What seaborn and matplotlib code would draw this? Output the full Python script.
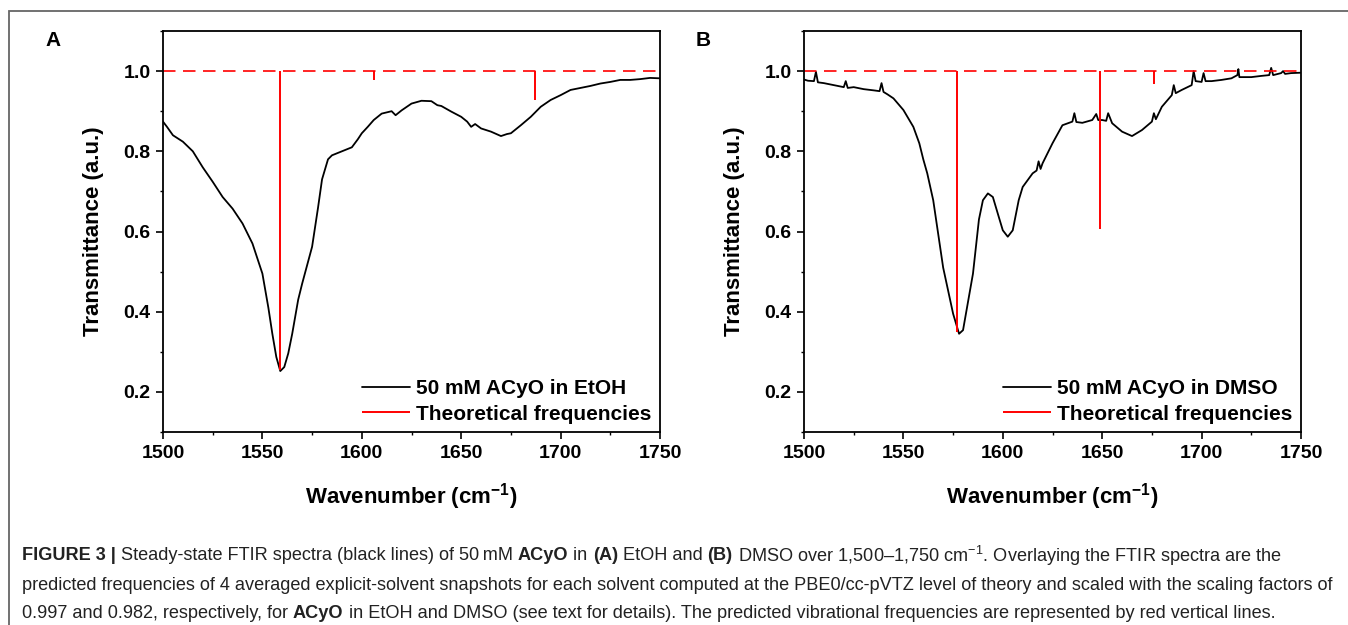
import pandas as pd
import seaborn as sns
import matplotlib.pyplot as plt
from matplotlib.patches import Rectangle
from matplotlib.ticker import MultipleLocator, FormatStrFormatter

# panel A: 50 mM ACyO in EtOH
etoh_wn = [1500, 1502, 1505, 1510, 1515, 1520, 1525, 1530, 1535, 1540, 1545, 1550,
           1553, 1555, 1557, 1559, 1561, 1563, 1565, 1568, 1570, 1575, 1578, 1580,
           1583, 1585, 1590, 1595, 1598, 1600, 1603, 1606, 1610, 1615, 1617, 1620,
           1625, 1630, 1635, 1638, 1640, 1645, 1650, 1653, 1655, 1657, 1660, 1665,
           1670, 1673, 1675, 1680, 1685, 1690, 1695, 1700, 1705, 1710, 1715, 1720,
           1725, 1730, 1735, 1740, 1745, 1750]
etoh_t = [0.874, 0.861, 0.84, 0.824, 0.80, 0.76, 0.724, 0.686, 0.657, 0.62, 0.57, 0.495,
          0.41, 0.345, 0.287, 0.252, 0.262, 0.296, 0.345, 0.43, 0.47, 0.562, 0.66, 0.73,
          0.78, 0.79, 0.80, 0.81, 0.83, 0.845, 0.861, 0.878, 0.894, 0.90, 0.89, 0.902,
          0.919, 0.926, 0.925, 0.915, 0.913, 0.899, 0.886, 0.874, 0.861, 0.868, 0.857, 0.849,
          0.838, 0.843, 0.845, 0.865, 0.886, 0.911, 0.928, 0.94, 0.953, 0.958, 0.963, 0.969,
          0.973, 0.978, 0.978, 0.98, 0.983, 0.982]

# panel B: 50 mM ACyO in DMSO
dmso_wn = [1500, 1502, 1505, 1506, 1507, 1510, 1515, 1520, 1521, 1522, 1525, 1530,
           1535, 1538, 1539, 1540, 1542, 1545, 1550, 1555, 1558, 1560, 1562, 1565,
           1570, 1575, 1578, 1580, 1585, 1588, 1590, 1592.5, 1595, 1598, 1600, 1602.5,
           1605, 1608, 1610, 1615, 1617, 1618, 1619, 1620, 1625, 1630, 1635, 1636,
           1637, 1640, 1645, 1647, 1648, 1650, 1652, 1653, 1655, 1660, 1665, 1670,
           1675, 1676, 1677, 1680, 1685, 1686, 1687, 1690, 1695, 1696, 1697, 1700,
           1701, 1702, 1705, 1710, 1715, 1718, 1718.5, 1719, 1725, 1730, 1734, 1735,
           1736, 1740, 1741, 1742, 1745, 1750]
dmso_t = [0.979, 0.976, 0.975, 0.998, 0.972, 0.97, 0.965, 0.96, 0.975, 0.958, 0.96, 0.955,
          0.952, 0.95, 0.97, 0.948, 0.942, 0.932, 0.903, 0.861, 0.82, 0.78, 0.745, 0.678,
          0.51, 0.395, 0.345, 0.354, 0.495, 0.63, 0.678, 0.695, 0.686, 0.636, 0.603, 0.587,
          0.603, 0.678, 0.711, 0.745, 0.752, 0.775, 0.756, 0.77, 0.82, 0.865, 0.874, 0.895,
          0.873, 0.871, 0.878, 0.893, 0.878, 0.878, 0.876, 0.895, 0.87, 0.849, 0.838, 0.853,
          0.874, 0.895, 0.88, 0.911, 0.94, 0.965, 0.945, 0.953, 0.965, 1.0, 0.975, 0.973,
          0.995, 0.975, 0.975, 0.978, 0.982, 0.99, 1.005, 0.985, 0.985, 0.988, 0.99, 1.008,
          0.99, 0.995, 1.0, 0.993, 0.995, 0.996]

# theoretical frequencies (sticks hanging from 1.0)
etoh_freq = [1559, 1606, 1687]
etoh_tip = [0.254, 0.979, 0.929]
dmso_freq = [1577, 1649, 1676]
dmso_tip = [0.35, 0.605, 0.969]

panel_letters = ["A", "B"]
spectrum_labels = ["50 mM ACyO in EtOH", "50 mM ACyO in DMSO"]
stick_label = "Theoretical frequencies"

caption_lines = [
    [("FIGURE 3 |", True), (" Steady-state FTIR spectra (black lines) of 50\u2009mM ", False),
     ("ACyO", True), (" in ", False), ("(A)", True), (" EtOH and ", False), ("(B)", True),
     (" DMSO over 1,500\u20131,750 cm$^{-1}$. Overlaying the FTIR spectra are the", False)],
    [("predicted frequencies of 4 averaged explicit-solvent snapshots for each solvent computed "
      "at the PBE0/cc-pVTZ level of theory and scaled with the scaling factors of", False)],
    [("0.997 and 0.982, respectively, for ", False), ("ACyO", True),
     (" in EtOH and DMSO (see text for details). The predicted vibrational frequencies are "
      "represented by red vertical lines.", False)],
]

sns.set_theme(style="ticks")
plt.rcParams["font.family"] = ["Liberation Sans", "DejaVu Sans"]
plt.rcParams["mathtext.fontset"] = "custom"
plt.rcParams["mathtext.rm"] = "Liberation Sans"
plt.rcParams["mathtext.bf"] = "Liberation Sans:bold"
plt.rcParams["mathtext.default"] = "rm"
for key in ["text.color", "axes.labelcolor", "xtick.color", "ytick.color", "axes.edgecolor"]:
    plt.rcParams[key] = "black"

W, H = 1348, 625
fig = plt.figure(figsize=(W / 100, H / 100), dpi=100)

# grey frame around the figure
fig.patches.append(Rectangle((9 / W, -0.2), 1.2, 1.2 - 11 / H, transform=fig.transFigure,
                             fill=False, edgecolor="#666666", lw=1.3))

ax_a = fig.add_axes([163 / W, 1 - 432 / H, 497 / W, 401 / H])
ax_b = fig.add_axes([804 / W, 1 - 432 / H, 497 / W, 401 / H])

panels = [
    (ax_a, etoh_wn, etoh_t, etoh_freq, etoh_tip),
    (ax_b, dmso_wn, dmso_t, dmso_freq, dmso_tip),
]

for i, (ax, wn, t, freq, tip) in enumerate(panels):
    df = pd.DataFrame({"wn": wn, "t": t})
    sns.lineplot(data=df, x="wn", y="t", ax=ax, color="black", lw=1.3,
                 estimator=None, sort=False, label=spectrum_labels[i])
    ax.hlines(1.0, 1500, 1750, colors="red", linestyles=(0, (7.5, 4.5)), lw=1.2)
    ax.vlines(freq, tip, 1.0, colors="red", lw=1.4, label=stick_label)

    ax.set_xlim(1500, 1750)
    ax.set_ylim(0.1, 1.1)
    ax.xaxis.set_major_locator(MultipleLocator(50))
    ax.xaxis.set_minor_locator(MultipleLocator(25))
    ax.set_yticks([0.2, 0.4, 0.6, 0.8, 1.0])
    ax.yaxis.set_minor_locator(MultipleLocator(0.1))
    ax.yaxis.set_major_formatter(FormatStrFormatter("%.1f"))
    ax.tick_params(which="major", direction="out", length=5, width=1.2, labelsize=14, pad=4)
    ax.tick_params(which="minor", direction="out", length=2.5, width=1.0)
    for lab in ax.get_xticklabels() + ax.get_yticklabels():
        lab.set_fontweight("bold")
    for s in ax.spines.values():
        s.set_visible(True)
        s.set_linewidth(1.3)
        s.set_color("black")

    ax.set_xlabel("Wavenumber (cm$^{\\mathbf{-1}}$)", fontsize=16, fontweight="bold", labelpad=14)
    ax.set_ylabel("Transmittance (a.u.)", fontsize=16, fontweight="bold", labelpad=14)

    ax.legend(loc="lower right", frameon=False, prop={"size": 15, "weight": "bold"},
              handlelength=2.3, handletextpad=0.3, labelspacing=0.3,
              borderaxespad=0.2, borderpad=0.2)

fig.text(53 / W, 1 - 40 / H, panel_letters[0], fontsize=15, fontweight="bold", ha="center", va="center")
fig.text(703 / W, 1 - 40 / H, panel_letters[1], fontsize=15, fontweight="bold", ha="center", va="center")

# caption: pieces laid out one after the other so bold and regular can mix
cap_family = ["Liberation Sans Narrow", "Liberation Sans", "DejaVu Sans"]
renderer = fig.canvas.get_renderer()
probe = fig.text(0, 0, caption_lines[1][0][0], fontsize=10, family=cap_family)
probe_w = probe.get_window_extent(renderer).width
probe.remove()
cap_size = 10 * 1315 / probe_w

line_y = [556, 585, 613]
for segs, y in zip(caption_lines, line_y):
    x = 22
    for text, bold in segs:
        t = fig.text(x / W, 1 - y / H, text, fontsize=cap_size, family=cap_family,
                     fontweight="bold" if bold else "normal", color="#222222",
                     ha="left", va="center")
        x = t.get_window_extent(renderer).x1

fig.savefig("out.png", dpi=100)
